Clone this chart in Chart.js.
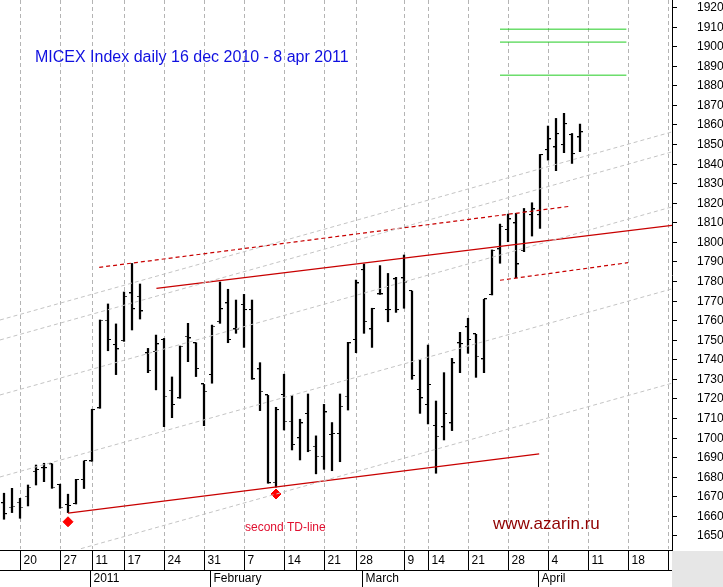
<!DOCTYPE html>
<html><head><meta charset="utf-8">
<script src="https://cdn.jsdelivr.net/npm/chart.js@4"></script>
<style>html,body{margin:0;padding:0;background:#fff;overflow:hidden}canvas{display:block}</style>
</head><body>
<canvas id="c" width="723" height="587"></canvas>
<script>
// OHLC values (index = trading day from 16 Dec 2010)
const opens  = [1666.5,1664.3,1666.8,1669.9,1682.6,1684.4,1686.4,1675.8,1665.6,1666.1,1678.4,1687.9,1715.0,1759.8,1747.3,1749.5,1773.7,1772.0,1743.1,1743.9,1749.9,1724.0,1720.1,1751.6,1748.2,1727.2,1732.0,1759.2,1768.6,1755.3,1767.8,1765.2,1734.9,1721.6,1677.0,1721.8,1708.2,1699.7,1712.1,1695.4,1690.3,1701.4,1701.9,1721.0,1749.9,1785.6,1755.3,1773.2,1765.2,1780.9,1781.4,1774.9,1724.4,1716.7,1706.0,1705.3,1707.3,1748.2,1756.4,1752.8,1740.0,1772.9,1796.2,1806.1,1809.5,1795.5,1813.7,1813.7,1846.9,1848.3,1849.5,1854.6,1853.4];
const highs  = [1671.6,1674.1,1669.0,1675.8,1686.0,1686.9,1686.6,1676.2,1671.1,1678.7,1688.1,1714.5,1760.1,1768.3,1758.1,1774.4,1789.0,1778.5,1745.6,1752.4,1750.7,1731.0,1746.8,1758.4,1748.5,1727.2,1757.5,1779.5,1775.8,1770.3,1773.2,1770.3,1738.3,1721.6,1715.5,1732.4,1721.5,1709.4,1722.3,1700.9,1717.0,1707.7,1722.3,1748.7,1780.5,1788.7,1766.1,1787.9,1783.9,1781.9,1793.3,1774.9,1739.7,1747.3,1718.7,1733.2,1740.5,1753.8,1761.0,1752.8,1770.7,1795.9,1809.1,1814.2,1814.6,1817.1,1820.0,1844.7,1859.2,1863.1,1865.7,1855.4,1860.2];
const lows   = [1658.3,1661.7,1658.8,1665.1,1675.8,1677.5,1674.1,1663.9,1661.7,1666.1,1674.0,1687.9,1715.0,1744.4,1732.2,1749.2,1755.0,1760.6,1733.2,1724.4,1705.6,1710.2,1720.1,1738.8,1731.2,1706.1,1727.8,1758.4,1748.5,1753.3,1746.1,1729.8,1713.8,1676.7,1674.7,1703.9,1693.7,1688.6,1692.8,1681.5,1683.8,1683.1,1687.7,1714.1,1743.4,1753.3,1746.1,1773.2,1759.2,1764.0,1766.1,1729.8,1712.4,1707.0,1681.8,1698.8,1703.6,1733.2,1743.1,1730.8,1733.2,1772.9,1789.1,1800.1,1781.7,1795.0,1803.0,1806.9,1841.8,1836.4,1845.6,1840.1,1846.1];
const closes = [1660.9,1664.8,1664.3,1674.5,1683.5,1684.4,1674.5,1664.3,1665.1,1678.4,1688.1,1714.1,1759.8,1749.9,1745.1,1772.0,1765.6,1764.5,1734.2,1747.7,1721.0,1716.7,1746.5,1750.7,1735.1,1723.5,1756.7,1765.6,1749.9,1755.3,1765.2,1729.8,1723.5,1676.7,1714.1,1708.2,1696.3,1707.3,1693.4,1690.3,1712.9,1701.9,1715.8,1748.2,1778.8,1759.2,1765.7,1773.2,1765.2,1765.2,1779.3,1731.5,1720.1,1726.9,1700.5,1712.1,1738.0,1747.8,1749.9,1741.4,1770.7,1795.5,1807.8,1811.5,1788.5,1815.4,1816.6,1844.4,1852.4,1855.1,1860.2,1844.9,1856.0];

const weekIdx    = [2,7,11,15,20,25,30,35,40,44,50,53,58,63,68,73,78,83];
const weekLabels = ['20','27','11','17','24','31','7','14','21','28','9','14','21','28','4','11','18','25'];
const monthIdx    = [11,26,45,67];
const monthLabels = ['2011','February','March','April'];
const yTicks = [1650,1660,1670,1680,1690,1700,1710,1720,1730,1740,1750,1760,1770,1780,1790,1800,1810,1820,1830,1840,1850,1860,1870,1880,1890,1900,1910,1920];

// trend lines [x0,y0,x1,y1] in (day index, value)
const redSolidUpper  = [19.05,1776.3,83.5,1808.5];
const redSolidLower  = [8.0,1661.4,66.9,1691.7];
const redDashUpper   = [11.9,1787.0,70.9,1818.3];
const redDashLower   = [62.0,1780.4,78.0,1789.4];
const greyLines = [[-0.5,1760.1,83.5,1856.2],[-0.5,1749.9,83.5,1846.0],[-0.5,1721.8,83.5,1817.9],[-0.5,1679.9,83.5,1776.0],[-0.5,1631.7,83.5,1727.8]];
const greenLevels = [1908.7,1902.1,1885.2];
const greenRange = [62.0,77.8];
const tdPoints = [[8,1657.0],[34,1671.2]];

const idx = opens.map((_, i) => i);
function seg(a){return [{x:a[0],y:a[1]},{x:a[2],y:a[3]}];}
function tickImg(left){const c=document.createElement('canvas');c.width=10;c.height=2;const g=c.getContext('2d');g.fillStyle='#000';g.fillRect(left?2:5,0,3,1);return c;}
const red='#c80000';
const datasets=[];
greyLines.forEach(l=>datasets.push({type:'line',data:seg(l),borderColor:'#c4c4c4',borderWidth:1,borderDash:[4,3],pointRadius:0}));
datasets.push({type:'line',data:seg(redSolidUpper),borderColor:red,borderWidth:1.3,pointRadius:0});
datasets.push({type:'line',data:seg(redSolidLower),borderColor:red,borderWidth:1.3,pointRadius:0});
datasets.push({type:'line',data:seg(redDashUpper),borderColor:red,borderWidth:1.2,borderDash:[4,3],pointRadius:0});
datasets.push({type:'line',data:seg(redDashLower),borderColor:red,borderWidth:1.2,borderDash:[4,3],pointRadius:0});
greenLevels.forEach(v=>datasets.push({type:'line',data:[{x:greenRange[0],y:v},{x:greenRange[1],y:v}],borderColor:'#22cc22',borderWidth:1,pointRadius:0}));
datasets.push({type:'bar',data:idx.map(i=>({x:i,y:[lows[i],highs[i]]})),backgroundColor:'#000',barThickness:1.6,grouped:false});
datasets.push({type:'scatter',data:idx.map(i=>({x:i,y:opens[i]})),pointStyle:tickImg(true),pointRadius:5});
datasets.push({type:'scatter',data:idx.map(i=>({x:i,y:closes[i]})),pointStyle:tickImg(false),pointRadius:5});
datasets.push({type:'scatter',data:tdPoints.map(p=>({x:p[0],y:p[1]})),pointStyle:'rectRot',pointRadius:5,backgroundColor:'#ff0000',borderColor:'#ff0000'});

const FONT='12px "Liberation Sans", Arial, sans-serif';
const deco={id:'deco',
 beforeDatasetsDraw(ch){const g=ch.ctx,x=ch.scales.x,a=ch.chartArea;g.save();g.strokeStyle='#b4b4b4';g.lineWidth=1;g.setLineDash([4,3]);
  weekIdx.forEach(i=>{const px=Math.round(x.getPixelForValue(i))+0.5;g.beginPath();g.moveTo(px,a.top);g.lineTo(px,a.bottom);g.stroke();});g.restore();},
 afterDraw(ch){const g=ch.ctx,x=ch.scales.x,y=ch.scales.y,a=ch.chartArea;g.save();
  g.fillStyle='#e6e6e6';g.fillRect(a.right,a.bottom+2,723-a.right,40);
  g.strokeStyle='#000';g.lineWidth=1;
  g.beginPath();g.moveTo(a.right+0.5,0);g.lineTo(a.right+0.5,a.bottom+2);g.stroke();
  g.beginPath();g.moveTo(0,a.bottom+1.5);g.lineTo(a.right,a.bottom+1.5);g.moveTo(0,570.5);g.lineTo(a.right,570.5);g.stroke();
  g.font=FONT;g.fillStyle='#000';g.textBaseline='middle';g.textAlign='left';
  yTicks.forEach(v=>{const py=Math.round(y.getPixelForValue(v))+0.5;g.beginPath();g.moveTo(a.right,py);g.lineTo(a.right+5,py);g.stroke();g.fillText(String(v),a.right+25,py);});
  g.beginPath();g.rect(0,a.bottom+2,a.right,40);g.clip();
  weekIdx.forEach((i,k)=>{const px=Math.round(x.getPixelForValue(i))+0.5;g.beginPath();g.moveTo(px,a.bottom+2);g.lineTo(px,570);g.stroke();g.fillText(weekLabels[k],px+3,561);});
  monthIdx.forEach((i,k)=>{const px=Math.round(x.getPixelForValue(i))-1.5;g.beginPath();g.moveTo(px,571);g.lineTo(px,587);g.stroke();g.fillText(monthLabels[k],px+3,579);});
  g.restore();
  g.save();g.textBaseline='alphabetic';
  g.font='16px "Liberation Sans", Arial, sans-serif';g.fillStyle='#1010e0';g.fillText('MICEX Index daily 16 dec 2010 - 8 apr 2011',35,62);
  g.font='12px "Liberation Sans", Arial, sans-serif';g.fillStyle='#e01030';g.fillText('second TD-line',245,531);
  g.font='17px "Liberation Sans", Arial, sans-serif';g.fillStyle='#900000';g.fillText('www.azarin.ru',493,529);
  g.restore();}
};

new Chart(document.getElementById('c'),{
 data:{datasets},
 options:{responsive:false,animation:false,devicePixelRatio:1,
  layout:{autoPadding:false,padding:{left:0,top:0,right:51,bottom:38}},
  plugins:{legend:{display:false},tooltip:{enabled:false}},
  scales:{x:{type:'linear',min:-0.5,max:83.5,display:false,offset:false},
          y:{type:'linear',min:1643.1,max:1923.6,display:false}}},
 plugins:[deco]
});
</script>
</body></html>
